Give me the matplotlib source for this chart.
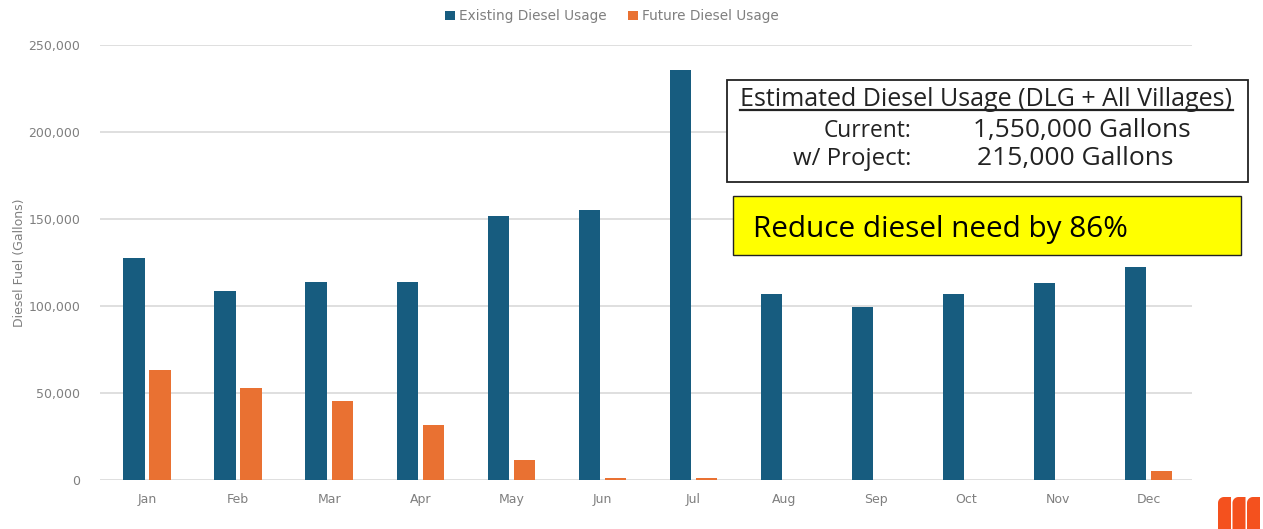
import numpy as np
import matplotlib.pyplot as plt
from matplotlib.patches import Rectangle, Polygon
from matplotlib.lines import Line2D
from matplotlib.ticker import FuncFormatter

months = ['Jan', 'Feb', 'Mar', 'Apr', 'May', 'Jun', 'Jul', 'Aug', 'Sep', 'Oct', 'Nov', 'Dec']
existing = [127600, 108600, 113800, 113800, 151700, 155200, 235600, 106900, 99400, 106900, 113200, 122400]
future = [63200, 52900, 45400, 31600, 11500, 1000, 1000, 0, 0, 0, 0, 5200]

yticks = [0, 50000, 100000, 150000, 200000, 250000]
box_title = 'Estimated Diesel Usage (DLG + All Villages)'
box_rows = [('Current:', '1,550,000 Gallons'), ('w/ Project:', '215,000 Gallons')]
callout = 'Reduce diesel need by 86%'

c_exist = '#175C7F'
c_future = '#E97132'
grey = '#7F7F7F'

W, H = 1263, 529
fig = plt.figure(figsize=(W / 100, H / 100), dpi=100)
ax = fig.add_axes([0.079, 0.0926, 0.865, 0.8224])

x = np.arange(len(months))
w = 0.235
ax.bar(x - 0.143, existing, w, color=c_exist, label='Existing Diesel Usage', zorder=3)
ax.bar(x + 0.143, future, w, color=c_future, label='Future Diesel Usage', zorder=3)

ax.set_xlim(-0.52, 11.48)
ax.set_ylim(0, 250000)
ax.set_yticks(yticks)
ax.yaxis.set_major_formatter(FuncFormatter(lambda v, p: f'{int(v):,}'))
ax.set_xticks(x)
ax.set_xticklabels(months)
ax.tick_params(axis='both', length=0, colors=grey, labelsize=9)
ax.tick_params(axis='x', pad=9)
ax.tick_params(axis='y', pad=14)
ax.grid(axis='y', color='#D9D9D9', linewidth=1.2, zorder=0)
for s in ax.spines.values():
    s.set_visible(False)
ax.set_ylabel('Diesel Fuel (Gallons)', color=grey, fontsize=9, labelpad=2)

ax.legend(loc='upper center', bbox_to_anchor=(0.469, 1.11), ncol=2, frameon=False,
          fontsize=9.8, labelcolor=grey, handlelength=0.7, handleheight=0.7,
          handletextpad=0.3, columnspacing=1.6)


def fit_text(xp, yp, s, width_px, ha, family, color='#222222', size=16, weight='normal'):
    # put text in pixel coords, then scale font so it spans width_px
    t = fig.text(xp / W, 1 - yp / H, s, ha=ha, va='center_baseline', fontsize=size,
                 family=family, color=color, weight=weight)
    r = fig.canvas.get_renderer()
    bw = t.get_window_extent(renderer=r).width
    t.set_fontsize(size * width_px / bw)
    return t


# summary box
fig.add_artist(Rectangle((727 / W, 1 - 182 / H), 521 / W, 102 / H,
                         transform=fig.transFigure, facecolor='white',
                         edgecolor='#222222', linewidth=1.3))
fit_text(986, 97, box_title, 493, 'center', 'Open Sans', weight='medium')
fig.add_artist(Line2D([740 / W, 1233 / W], [1 - 110 / H, 1 - 110 / H],
                      transform=fig.transFigure, color='#222222', linewidth=1.6))
fit_text(911, 128, box_rows[0][0], 88, 'right', 'Open Sans')
fit_text(973, 128, box_rows[0][1], 217, 'left', 'Open Sans')
fit_text(911, 156, box_rows[1][0], 118, 'right', 'Open Sans')
fit_text(977, 156, box_rows[1][1], 196, 'left', 'Open Sans')

# yellow callout
fig.add_artist(Rectangle((733 / W, 1 - 255 / H), 508 / W, 59 / H,
                         transform=fig.transFigure, facecolor='#FFFF00',
                         edgecolor='#222222', linewidth=1.0))
fit_text(753, 226, callout, 375, 'left', 'Open Sans', color='black', size=18)

# logo
t = np.linspace(0, np.pi / 2, 12)
for k in range(3):
    x0 = 1218 + k * 14.5
    pts = [(x0, H - 26)] + [(x0 + 6 * (1 - np.cos(a)), H - 26 - 6 * np.sin(a)) for a in t]
    pts += [(x0 + 13, H - 32), (x0 + 13, H), (x0, H)]
    pts = [(px / W, 1 - py / H) for px, py in pts]
    fig.add_artist(Polygon(pts, closed=True, transform=fig.transFigure,
                           facecolor='#F4511E', edgecolor='none'))

fig.savefig('out.png', dpi=100)
